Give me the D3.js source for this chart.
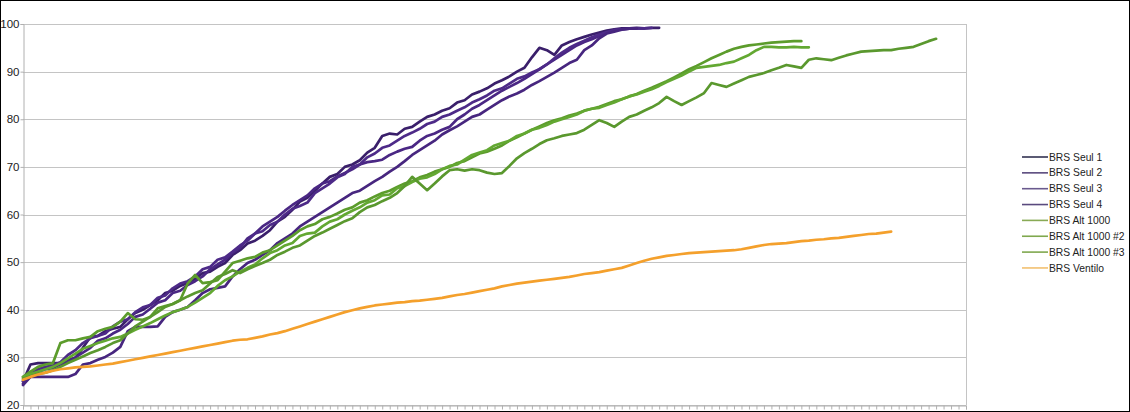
<!DOCTYPE html>
<html>
<head>
<meta charset="utf-8">
<script src="https://cdn.jsdelivr.net/npm/d3@7"></script>
<style>
  html, body { margin: 0; padding: 0; background: #fff; }
  svg { display: block; }
  text { font-family: "Liberation Sans", Arial, sans-serif; }
</style>
</head>
<body>
<svg id="chart" width="1130" height="412"></svg>
<script>
// ---------- DATA ----------
const categoryCount = 127;
const yTicks = [20, 30, 40, 50, 60, 70, 80, 90, 100];

const seriesNames = ["BRS Seul 1", "BRS Seul 2", "BRS Seul 3", "BRS Seul 4",
  "BRS Alt 1000", "BRS Alt 1000 #2", "BRS Alt 1000 #3", "BRS Ventilo"];

const seul1 = [25, 28.5, 28.8, 28.8, 28.8, 28.8, 29.5, 29.9, 32, 34.3,
  34.5, 35.5, 36, 36.4, 38, 39.3, 40, 41, 42, 43.5,
  44, 45, 45.6, 46.5, 47.7, 48, 49, 49.8, 51.5, 52.5,
  53.9, 54.5, 55.5, 56.7, 58.5, 59.5, 61, 62.7, 63.5, 65,
  66.5, 67.9, 68.5, 70, 70.5, 71.4, 73, 74, 76.5, 77,
  76.8, 78, 78.4, 79.5, 80.5, 81, 81.8, 82.3, 83.5, 84,
  85.2, 85.8, 86.5, 87.5, 88.2, 89, 90, 90.8, 93, 95,
  94.5, 93.5, 95.5, 96.2, 96.8, 97.3, 97.8, 98.2, 98.6, 98.9,
  99.1, 99.1, 99.2, 99.1, 99.2, 99.2];

const seul2 = [24.5, 26, 27, 27.5, 27.8, 28.5, 29, 30, 31, 32,
  33.5, 34, 35, 35.8, 37, 38.5, 39, 40.2, 41.5, 42,
  43.5, 44, 45.2, 46, 47, 48.5, 49.5, 50.5, 52, 53,
  55, 56, 57.5, 58.5, 59.5, 60.8, 62, 63, 64, 65.5,
  66.5, 67, 68, 68.7, 69.5, 70.5, 71, 71.2, 71.5, 72.5,
  73.2, 73.8, 74.2, 75.5, 76.5, 77, 77.8, 78.4, 80, 81,
  82.2, 83, 84, 85, 86, 86.8, 87.6, 88.5, 89.5, 90.5,
  91.5, 92.5, 93.5, 94.5, 95.5, 96.2, 96.8, 97.5, 98.2, 98.7,
  98.9, 99, 99.1, 99.1];

const seul3 = [25, 26.5, 27.5, 28, 28.3, 29, 30.5, 31.5, 33, 34,
  34.5, 35, 36.5, 37.5, 38, 39.5, 40.5, 41, 42.5, 43,
  44.5, 45.5, 46, 47, 48.5, 49, 50.5, 51, 52.2, 53.5,
  54.5, 56, 56.5, 57.8, 58.5, 60, 61.2, 61.8, 62.5, 64.5,
  65.5, 66.5, 67.8, 68.5, 70, 70.5, 72, 72.8, 74, 74.5,
  75.5, 76.5, 77.2, 78, 79, 79.5, 80.5, 81, 81.8, 82.5,
  83.5, 84.2, 85, 86, 86.5, 87.5, 88.5, 89, 89.8, 90.5,
  91.5, 92.8, 94, 95, 95.8, 96.5, 97.2, 97.8, 98.3, 98.7,
  98.9, 99, 99.1, 99.1, 99.2];

const seul4 = [24.2, 25.9, 25.9, 25.9, 25.9, 25.9, 25.9, 26.5, 28.5, 28.8,
  29.5, 30.1, 31, 32.2, 35.5, 36.4, 36.4, 36.4, 36.5, 38.5,
  39.5, 40, 40.6, 42, 43.5, 44.3, 44.6, 44.9, 47, 48.5,
  49.8, 50.5, 51.5, 52.5, 54, 55, 56, 57.5, 58.5, 59.5,
  60.5, 61.5, 62.5, 63.5, 64.5, 65, 66, 67, 67.9, 69,
  70, 71.2, 72.5, 73.5, 74.5, 75.5, 76.8, 77.7, 78.5, 79.5,
  80.5, 81, 82, 83, 84, 84.8, 85.4, 86.2, 87.2, 88,
  88.9, 89.8, 90.8, 91.8, 92.5, 94.5, 95.5, 97, 98, 98.4,
  98.8, 99, 99.1];

const alt1 = [25.9, 27, 28, 28.5, 28.8, 33, 33.6, 33.6, 34, 34.3,
  35.5, 36, 36.4, 37.5, 39.3, 38, 37.9, 38.5, 40.3, 40.8,
  41.2, 42, 45.5, 47.3, 45.6, 45.8, 46.2, 48, 49.8, 50.3,
  50.8, 51.1, 52, 52.5, 53.5, 54.5, 55.5, 56.7, 57.5, 58,
  59, 59.5, 60.2, 61, 61.5, 62.5, 63, 63.8, 64.5, 65,
  65.8, 66.5, 67, 67.8, 68.3, 69, 69.5, 70, 70.8, 71.2,
  72, 72.8, 73.2, 73.8, 74.5, 75.5, 76.2, 77, 77.8, 78.5,
  79.2, 79.8, 80.2, 80.8, 81.2, 81.8, 82.2, 82.6, 83.2, 83.8,
  84.2, 84.8, 85.3, 86, 86.6, 87.3, 88, 88.8, 89.6, 90.5,
  91.2, 92, 92.8, 93.5, 94.2, 94.8, 95.2, 95.5, 95.7, 95.9,
  96.1, 96.2, 96.3, 96.4, 96.4];

const alt2 = [25.9, 26.5, 27, 27.5, 28, 28.8, 29.8, 30.8, 31.8, 32.4,
  33, 33.5, 34, 34.3, 35, 35.8, 36.5, 37.2, 38, 38.8,
  39.5, 40, 40.6, 41.5, 42.5, 43.5, 45, 46.2, 47, 48,
  48.8, 49.5, 50.8, 51.9, 52.5, 53.5, 54, 55.5, 56, 56.2,
  57.5, 58.5, 59, 60, 60.8, 61.5, 62.5, 63, 64, 64.2,
  65.5, 66, 66.8, 67.5, 67.8, 68.5, 69.5, 70.2, 70.5, 71.5,
  72.5, 73, 73.5, 74.5, 75, 75.5, 76.5, 77, 77.8, 78.2,
  78.8, 79.5, 80, 80.5, 81, 81.8, 82.2, 82.4, 83, 83.5,
  84.2, 84.8, 85.2, 85.8, 86.3, 87, 87.8, 88.5, 89.2, 90,
  90.8, 91, 91.2, 91.4, 91.8, 92.1, 92.8, 93.5, 94.5, 95.2,
  95.2, 95.1, 95.1, 95.2, 95.1, 95.1];

const alt3 = [25.5, 26, 26.5, 26.8, 27.3, 28, 28.8, 29.5, 30.2, 30.9,
  31.5, 32.2, 33, 33.6, 35, 36.5, 37.5, 38.5, 39.5, 40.6,
  41.2, 42, 42.8, 43.5, 44.1, 45.5, 46.9, 47.5, 48.3, 47.7,
  48.5, 49.2, 49.8, 50.5, 51.5, 52.2, 53, 53.5, 54.5, 55.5,
  56.2, 57, 57.8, 58.6, 59.2, 60.5, 61.5, 62, 62.8, 63.5,
  64.5, 66, 67.9, 66.5, 65.1, 66.5, 68, 69.3, 69.5, 69.2,
  69.5, 69.3, 68.8, 68.5, 68.7, 70.2, 71.8, 72.9, 73.8, 74.8,
  75.6, 76, 76.5, 76.8, 77.1, 77.8, 78.8, 79.8, 79.2, 78.4,
  79.5, 80.5, 81, 81.8, 82.5, 83.4, 84.7, 83.8, 83, 83.8,
  84.6, 85.5, 87.6, 87.2, 86.8, 87.5, 88.2, 88.9, 89.3, 89.7,
  90.3, 90.8, 91.4, 91.1, 90.8, 92.5, 92.8, 92.6, 92.4, 92.9,
  93.4, 93.8, 94.2, 94.3, 94.4, 94.5, 94.5, 94.8, 95, 95.2,
  95.8, 96.4, 96.9];

const ventilo = [25.3, 25.9, 26.4, 26.8, 27.2, 27.5, 27.7, 27.9, 28.0, 28.1,
  28.3, 28.5, 28.7, 29.0, 29.3, 29.6, 29.9, 30.2, 30.5, 30.8,
  31.1, 31.4, 31.7, 32.0, 32.3, 32.6, 32.9, 33.2, 33.5, 33.7,
  33.8, 34.1, 34.4, 34.8, 35.1, 35.5, 36.0, 36.5, 37.0, 37.5,
  38.0, 38.5, 39.0, 39.5, 39.9, 40.3, 40.6, 40.9, 41.1, 41.3,
  41.5, 41.6, 41.8, 41.9, 42.1, 42.3, 42.5, 42.8, 43.1, 43.3,
  43.6, 43.9, 44.2, 44.5, 44.9, 45.2, 45.5, 45.7, 45.9, 46.1,
  46.3, 46.5, 46.7, 46.9, 47.2, 47.5, 47.7, 47.9, 48.2, 48.5,
  48.8, 49.3, 49.8, 50.3, 50.7, 51.0, 51.3, 51.5, 51.7, 51.9,
  52.0, 52.1, 52.2, 52.3, 52.4, 52.5, 52.7, 53.0, 53.3, 53.6,
  53.8, 53.9, 54.0, 54.2, 54.4, 54.5, 54.7, 54.8, 55.0, 55.1,
  55.3, 55.5, 55.7, 55.9, 56.0, 56.2, 56.4];

const seriesValues = [seul1, seul2, seul3, seul4, alt1, alt2, alt3, ventilo];
const seriesColors = ["#3a1f6b", "#4a2784", "#4d2a88", "#47267f",
  "#5c9c2c", "#63a832", "#5a982e", "#f4a02c"];
const legendColors = ["#333352", "#5a4a7e", "#6a5a8e", "#5a4a7e",
  "#88aa55", "#7fa84e", "#7fa84e", "#f2c070"];

// ---------- LAYOUT ----------
const svg = d3.select("#chart");
const plot = { left: 23, right: 966, top: 24, bottom: 405 };

const x = d3.scaleLinear().domain([0, categoryCount - 1]).range([plot.left, plot.right]);
const y = d3.scaleLinear().domain([20, 100]).range([plot.bottom, plot.top]);

// gridlines
svg.append("g")
  .selectAll("line")
  .data(yTicks)
  .join("line")
  .attr("x1", plot.left).attr("x2", plot.right)
  .attr("y1", d => Math.round(y(d)) + 0.5).attr("y2", d => Math.round(y(d)) + 0.5)
  .attr("stroke", "#c4c4c4").attr("stroke-width", 1);

// right border of plot
svg.append("line")
  .attr("x1", plot.right + 0.5).attr("x2", plot.right + 0.5)
  .attr("y1", plot.top).attr("y2", plot.bottom)
  .attr("stroke", "#c4c4c4");

// x axis (ticks only)
const xAxis = d3.axisBottom(x)
  .tickValues(d3.range(0, categoryCount))
  .tickSize(4)
  .tickFormat("");
const gx = svg.append("g")
  .attr("transform", `translate(0,${plot.bottom + 0.5})`)
  .call(xAxis);
gx.selectAll("path, line").attr("stroke", "#b0b0b0");

// y axis
const yAxis = d3.axisLeft(y).tickValues(yTicks).tickSize(3).tickPadding(1);
const gy = svg.append("g")
  .attr("transform", `translate(${plot.left + 0.5},0)`)
  .call(yAxis);
gy.selectAll("path, line").attr("stroke", "#b0b0b0");
gy.selectAll("text")
  .attr("fill", "#222")
  .style("font-size", "11.5px")
  .style("font-family", "'Liberation Sans', Arial, sans-serif");

// lines
const line = d3.line()
  .x((d, i) => x(i))
  .y(d => y(d));

svg.append("g")
  .selectAll("path")
  .data(seriesValues)
  .join("path")
  .attr("d", d => line(d))
  .attr("fill", "none")
  .attr("stroke", (d, i) => seriesColors[i])
  .attr("stroke-width", 2.7)
  .attr("stroke-linejoin", "round")
  .attr("stroke-linecap", "round");

// legend
const legend = svg.append("g").attr("transform", "translate(1022,157)");
const rows = legend.selectAll("g")
  .data(seriesNames)
  .join("g")
  .attr("transform", (d, i) => `translate(0,${i * 15.85})`);
rows.append("line")
  .attr("x1", 0).attr("x2", 26)
  .attr("y1", 0).attr("y2", 0)
  .attr("stroke", (d, i) => legendColors[i])
  .attr("stroke-width", 1.6);
rows.append("text")
  .attr("x", 27).attr("y", 0)
  .attr("dy", "0.35em")
  .attr("fill", "#222")
  .style("font-size", "10.3px")
  .text(d => d);

// outer frame
svg.append("rect")
  .attr("x", 0.5).attr("y", 0.5)
  .attr("width", 1129).attr("height", 411)
  .attr("fill", "none")
  .attr("stroke", "#000").attr("stroke-width", 1);
</script>
</body>
</html>
